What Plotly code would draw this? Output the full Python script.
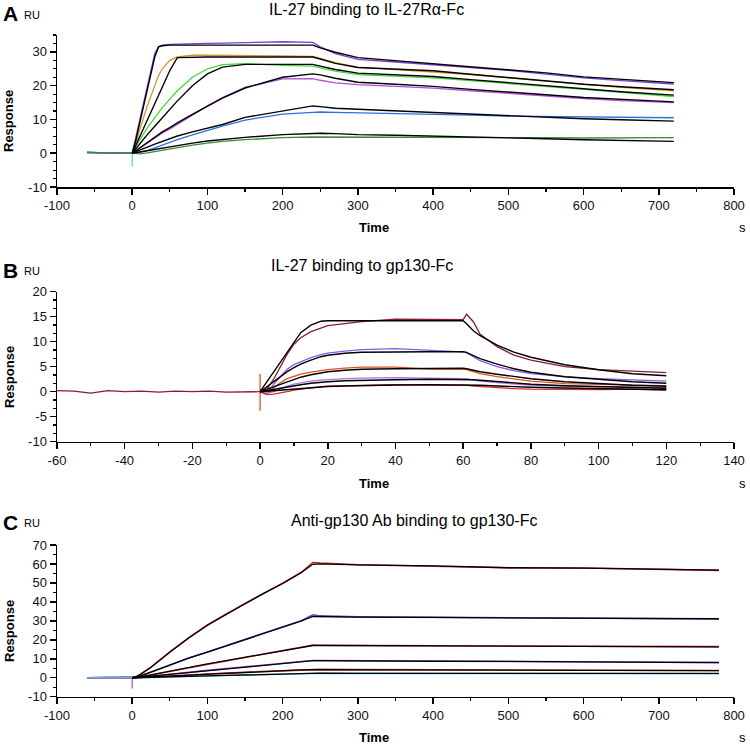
import plotly.graph_objects as go

W, H = 750, 744

# ---------------- Panel A : IL-27 binding to IL-27Ra-Fc ----------------
tA = [-60, -30, 0, 5, 10, 20, 30, 35, 40, 50, 60, 80, 100, 120, 150, 200, 240,
      250, 270, 300, 350, 400, 450, 500, 550, 600, 650, 720]
A_data = {
    "#7A3FD8": [0.3, 0.0, 0, 5, 10, 20, 29.5, 31.5, 32, 32.2, 32.3, 32.4, 32.5, 32.6, 32.8, 33, 32.8,
                31.5, 29.5, 27.8, 27, 26.2, 25.4, 24.5, 23.4, 22.3, 21.5, 20.5],
    "#D9952B": [0.2, 0.0, 0, 3, 7, 14, 20, 23, 25, 27.5, 28.5, 29, 29, 29, 29, 28.8, 28.7,
                28, 26.8, 25.5, 24.8, 24.2, 23.3, 22.3, 21.3, 20.3, 19.5, 18.5],
    "#3DDB3A": [0.2, 0.0, 0, 2, 4, 7.5, 10.5, 12, 13.5, 16, 18.5, 22.5, 25, 26.2, 26.5, 26, 25.8,
                25.3, 24.3, 23.3, 22.8, 22.3, 21.5, 20.7, 19.8, 18.9, 18, 16.8],
    "#B54BE0": [0.2, 0.0, 0, 0.5, 1.5, 3, 4.5, 5.2, 6, 7.2, 8.6, 11.2, 14, 16.5, 19.5, 22, 22.1,
                21.6, 20.8, 20.3, 19.8, 19.3, 18.5, 17.7, 16.9, 16.2, 15.6, 15],
    "#2E6FE0": [0.2, 0.0, 0, 0, 0.2, 0.8, 1.6, 2, 2.4, 3.3, 4, 5.4, 6.8, 8, 9.8, 11.6, 12.1,
                12.2, 12.1, 12, 11.8, 11.6, 11.3, 11, 10.9, 10.8, 10.6, 10.5],
    "#3D8A3D": [0.3, 0.0, 0, 0, -0.2, 0.1, 0.5, 0.7, 0.9, 1.3, 1.7, 2.4, 3, 3.5, 4, 4.6, 4.8,
                4.8, 4.8, 4.7, 4.7, 4.8, 4.7, 4.7, 4.6, 4.5, 4.5, 4.6],
}
tA_fit = [0, 5, 10, 20, 30, 35, 40, 50, 60, 80, 100, 120, 150, 200, 240,
          250, 270, 300, 350, 400, 450, 500, 550, 600, 650, 720]
A_fit = [
    [0, 4, 9, 19, 28.5, 31.5, 31.8, 32, 32, 32, 32, 32, 32, 32, 32,
     31.2, 29.9, 28.3, 27.4, 26.6, 25.7, 24.9, 23.8, 22.6, 21.9, 20.9],
    [0, 2.5, 5, 9.8, 14.8, 17.3, 19.8, 24.5, 28.3, 28.5, 28.5, 28.5, 28.5, 28.5, 28.5,
     27.9, 26.6, 25.4, 24.9, 24.4, 23.4, 22.4, 21.4, 20.4, 19.7, 18.8],
    [0, 1.4, 2.8, 5.5, 8, 9.3, 10.5, 13, 15.5, 20, 23.5, 25.5, 26.3, 26.3, 26.3,
     25.8, 24.8, 23.7, 23.2, 22.7, 21.8, 20.9, 20, 19, 18.2, 17.2],
    [0, 0.8, 1.7, 3.3, 4.8, 5.6, 6.3, 7.6, 9, 11.5, 14, 16.3, 19.3, 22.5, 23.5,
     23.2, 22.2, 21, 20.4, 19.8, 18.9, 18, 17.3, 16.5, 15.9, 15.2],
    [0, 0.4, 0.9, 1.8, 2.7, 3.1, 3.5, 4.4, 5.1, 6.3, 7.4, 8.5, 10.6, 12.6, 14,
     13.8, 13.3, 13, 12.5, 12, 11.5, 11, 10.6, 10.2, 9.9, 9.5],
    [0, 0.2, 0.4, 0.8, 1.2, 1.4, 1.6, 2, 2.4, 3, 3.6, 4.1, 4.7, 5.5, 5.9,
     5.9, 5.8, 5.5, 5.3, 5.1, 4.9, 4.6, 4.3, 4, 3.8, 3.5],
]
A_spike_t = [0, 0]
A_spike_v = [0.5, -3.9]
A_xticks = [-100, 0, 100, 200, 300, 400, 500, 600, 700, 800]
A_yticks = [-10, 0, 10, 20, 30]

# ---------------- Panel B : IL-27 binding to gp130-Fc ----------------
tB_base = [-60, -55, -50, -45, -40, -35, -30, -25, -20, -15, -10, -5, 0]
B_base = [0.2, 0.1, -0.3, 0.2, 0.0, 0.1, -0.1, 0.1, 0.0, 0.1, -0.1, 0.0, 0.0]
tB = [0, 2, 4, 6, 8, 10, 12, 15, 18, 20, 25, 30, 40, 50, 60, 61, 63, 65, 70, 75,
      80, 90, 100, 110, 120]
B_data = {
    "#8B1C2E": [0, 0.5, 2.5, 5, 7.5, 9.5, 10.8, 12, 12.8, 13.2, 13.6, 14, 14.5, 14.5, 14.4,
                15.5, 14, 11.5, 9, 7.3, 6.3, 5, 4.4, 4.1, 3.8],
    "#8A5CE8": [0, -0.5, 1.5, 3, 4.5, 5.4, 6, 6.8, 7.4, 7.7, 8.1, 8.4, 8.6, 8.3, 8,
                7.9, 7, 6.2, 5, 4.2, 3.6, 3, 2.6, 2.4, 2.1],
    "#E0501E": [0, -0.5, 0.8, 1.8, 2.6, 3.1, 3.5, 3.9, 4.2, 4.4, 4.7, 4.9, 4.9, 4.5, 4.5,
                4.4, 4, 3.6, 3, 2.5, 2.1, 1.6, 1.4, 1.3, 1.2],
    "#B070E8": [0, -0.3, 0, 0.6, 1.1, 1.5, 1.8, 2.1, 2.3, 2.4, 2.6, 2.7, 2.8, 2.7, 2.6,
                2.6, 2.3, 2.1, 1.8, 1.5, 1.3, 1.1, 1, 0.9, 0.8],
    "#D42A2A": [0, -0.6, -0.5, -0.3, 0, 0.3, 0.5, 0.8, 1, 1.1, 1.2, 1.3, 1.4, 1.3, 1.3,
                1.3, 1.1, 1, 0.8, 0.6, 0.5, 0.4, 0.4, 0.5, 0.3],
}
B_fit = [
    [0, 2, 4, 6, 8, 10, 11.8, 13.3, 14.1, 14.2, 14.2, 14.2, 14.2, 14.2, 14.2,
     13.6, 12.2, 11.2, 9.3, 7.9, 6.9, 5.4, 4.4, 3.6, 3.2],
    [0, 1, 2, 3, 4, 4.8, 5.5, 6.3, 7, 7.3, 7.7, 7.9, 8, 8, 8,
     7.8, 7.2, 6.6, 5.5, 4.6, 3.9, 3, 2.5, 2, 1.7],
    [0, 0.5, 1, 1.5, 2, 2.5, 2.9, 3.4, 3.8, 4, 4.3, 4.5, 4.6, 4.7, 4.7,
     4.6, 4.3, 4, 3.5, 3, 2.6, 2, 1.6, 1.3, 1.1],
    [0, 0.25, 0.5, 0.75, 1, 1.2, 1.4, 1.7, 1.9, 2, 2.2, 2.3, 2.4, 2.5, 2.5,
     2.5, 2.4, 2.3, 2, 1.8, 1.5, 1.2, 1, 0.8, 0.7],
    [0, 0.1, 0.25, 0.4, 0.5, 0.6, 0.7, 0.85, 1, 1.05, 1.15, 1.25, 1.35, 1.4, 1.4,
     1.4, 1.35, 1.3, 1.15, 1, 0.9, 0.75, 0.6, 0.5, 0.4],
]
B_spike_t = [0, 0]
B_spike_v = [3.6, -3.8]
B_xticks = [-60, -40, -20, 0, 20, 40, 60, 80, 100, 120, 140]
B_yticks = [-10, -5, 0, 5, 10, 15, 20]

# ---------------- Panel C : Anti-gp130 Ab binding to gp130-Fc ----------------
tC = [-60, -30, 0, 5, 10, 25, 50, 75, 100, 125, 150, 175, 200, 225, 240, 250,
      300, 400, 500, 600, 700, 780]
C_data = {
    "#C0282D": [0, 0, 0, 0.6, 1.6, 5.6, 13.6, 21, 27.8, 33.6, 39.2, 44.6, 49.8, 55.6, 60.8, 60.5,
                59.6, 59, 58, 57.9, 57.3, 56.6],
    "#5E4FE0": [0, 0, 0, 0.3, 0.8, 3, 6.9, 10.4, 13.6, 16.9, 20.1, 23.3, 26.6, 30.1, 33.2, 32.6,
                32.1, 31.8, 31.6, 31.5, 31.2, 31],
    "#D94040": [0, 0, 0, 0.2, 0.4, 1.5, 3.6, 5.5, 7.4, 9.1, 10.9, 12.6, 14.4, 16.1, 17.2, 17.1,
                17, 16.8, 16.6, 16.5, 16.4, 16.4],
    "#9A55D6": [0, 0, 0, 0.1, 0.2, 0.8, 1.9, 2.9, 3.9, 4.8, 5.7, 6.6, 7.6, 8.5, 9.1, 9,
                8.9, 8.8, 8.6, 8.4, 8.2, 8.1],
    "#D03838": [0, 0, 0, 0.05, 0.1, 0.4, 1, 1.5, 2, 2.5, 2.9, 3.3, 3.8, 4.2, 4.5, 4.4,
                4.3, 4.2, 4.1, 4, 3.9, 3.8],
    "#5AB4E6": [0, 0, 0, 0.03, 0.05, 0.2, 0.5, 0.7, 1, 1.2, 1.5, 1.7, 2, 2.2, 2.4, 2.4,
                2.3, 2.3, 2.2, 2.2, 2.2, 2.1],
}
tC_fit = [0, 5, 10, 25, 50, 75, 100, 125, 150, 175, 200, 225, 240, 250,
          300, 400, 500, 600, 700, 780]
C_fit = [
    [0, 0.5, 1.5, 5.5, 13.5, 21, 27.7, 33.5, 39, 44.5, 49.7, 55.5, 59.8, 60,
     59.5, 59, 58, 57.8, 57.3, 56.8],
    [0, 0.3, 0.8, 3, 6.8, 10.3, 13.5, 16.8, 20, 23.2, 26.5, 30, 32.3, 32.3,
     32, 31.8, 31.7, 31.5, 31.3, 31.1],
    [0, 0.2, 0.4, 1.5, 3.5, 5.4, 7.3, 9, 10.8, 12.5, 14.3, 16, 17, 17,
     16.9, 16.8, 16.5, 16.4, 16.3, 16.3],
    [0, 0.1, 0.2, 0.8, 1.8, 2.8, 3.8, 4.7, 5.6, 6.5, 7.5, 8.4, 9, 9,
     8.8, 8.7, 8.6, 8.2, 8.1, 8],
    [0, 0.05, 0.1, 0.4, 0.9, 1.4, 1.9, 2.4, 2.8, 3.2, 3.7, 4.1, 4.3, 4.3,
     4.2, 4.1, 4, 3.9, 3.8, 3.7],
    [0, 0.03, 0.05, 0.2, 0.5, 0.7, 1, 1.2, 1.5, 1.7, 2, 2.2, 2.4, 2.4,
     2.3, 2.3, 2.3, 2.3, 2.3, 2.3],
]
C_spike_t = [0, 0]
C_spike_v = [0, -5.7]
C_xticks = [-100, 0, 100, 200, 300, 400, 500, 600, 700, 800]
C_yticks = [-10, 0, 10, 20, 30, 40, 50, 60, 70]

# ---------------- helpers ----------------
def px(x, y):
    return x / W, 1 - y / H

FONT = "Arial, Liberation Sans, sans-serif"
fig = go.Figure()

def add(x, y, color, ax, width=1.3):
    fig.add_trace(go.Scatter(x=x, y=y, mode="lines", line=dict(color=color, width=width),
                             xaxis="x" + ax, yaxis="y" + ax, showlegend=False,
                             hoverinfo="skip"))

# Panel A traces
for col, vals in A_data.items():
    add(tA, vals, col, "")
add(A_spike_t, A_spike_v, "#62D8D8", "")
for vals in A_fit:
    add(tA_fit, vals, "black", "", 1.4)

# Panel B traces
add(tB_base, B_base, "#8B1C2E", "2")
for col, vals in B_data.items():
    add(tB, vals, col, "2")
add(B_spike_t, B_spike_v, "#E0501E", "2")
for vals in B_fit:
    add(tB, vals, "black", "2", 1.4)

# Panel C traces
for col, vals in C_data.items():
    add(tC, vals, col, "3", 1.6)
add(C_spike_t, C_spike_v, "#8A6AE0", "3")
for vals in C_fit:
    add(tC_fit, vals, "black", "3", 1.3)

def lab(v):
    return [str(t) for t in v]

def axis(rng, ticks, mdtick, dom, anchor):
    return dict(range=rng, tickmode="array", tickvals=ticks, ticktext=lab(ticks),
                domain=dom, anchor=anchor, automargin=False,
                showgrid=False, zeroline=False, showline=True, linecolor="black",
                linewidth=1.5, ticks="outside", ticklen=6, tickwidth=1.5, tickcolor="black",
                tickfont=dict(family=FONT, size=13, color="#111"),
                minor=dict(dtick=mdtick, tick0=0, ticks="outside", ticklen=3, tickwidth=1.2,
                           tickcolor="black", showgrid=False),
                fixedrange=True)

xd = [57 / W, 734 / W]
domA = [1 - 187 / H, 1 - 35 / H]
domB = [1 - 441.7 / H, 1 - 291.7 / H]
domC = [1 - 696.7 / H, 1 - 545 / H]

fig.update_layout(
    width=W, height=H, autosize=False,
    margin=dict(l=0, r=0, t=0, b=0),
    paper_bgcolor="white", plot_bgcolor="white",
    xaxis=axis([-100, 800], A_xticks, 50, xd, "y"),
    yaxis=axis([-10, 35], A_yticks, 2.5, domA, "x"),
    xaxis2=axis([-60, 140], B_xticks, 10, xd, "y2"),
    yaxis2=axis([-10, 20], B_yticks, 5 / 3, domB, "x2"),
    xaxis3=axis([-100, 800], C_xticks, 50, xd, "y3"),
    yaxis3=axis([-10, 70], C_yticks, 5, domC, "x3"),
)

ann = []
def text(x, y, s, size, bold=False, angle=0, xanchor="center", color="black"):
    X, Y = px(x, y)
    t = f"<b>{s}</b>" if bold else s
    ann.append(dict(x=X, y=Y, xref="paper", yref="paper", text=t, showarrow=False,
                    textangle=angle, xanchor=xanchor, yanchor="middle",
                    font=dict(family=FONT, size=size, color=color)))

panels = [
    ("A", 14, "IL-27 binding to IL-27Rα-Fc", 366, 10, 121, 228),
    ("B", 270, "IL-27 binding to gp130-Fc", 362, 265, 377, 483),
    ("C", 522, "Anti-gp130 Ab binding to gp130-Fc", 414, 520, 631, 737),
]
for letter, ly, title, tx, ty, ry, timey in panels:
    text(1, ly, letter, 21, bold=True, xanchor="left")
    text(22, ly + 1, "RU", 11, xanchor="left")
    text(tx, ty, title, 16)
    text(9, ry, "Response", 13, bold=True, angle=-90)
    text(374, timey, "Time", 13, bold=True)
    text(748, timey, "s", 13, xanchor="right")

fig.update_layout(annotations=ann)
fig.write_html("out.html", config={"displayModeBar": False, "staticPlot": True},
               post_script="document.body.style.margin='0';document.body.style.overflow='hidden';")
